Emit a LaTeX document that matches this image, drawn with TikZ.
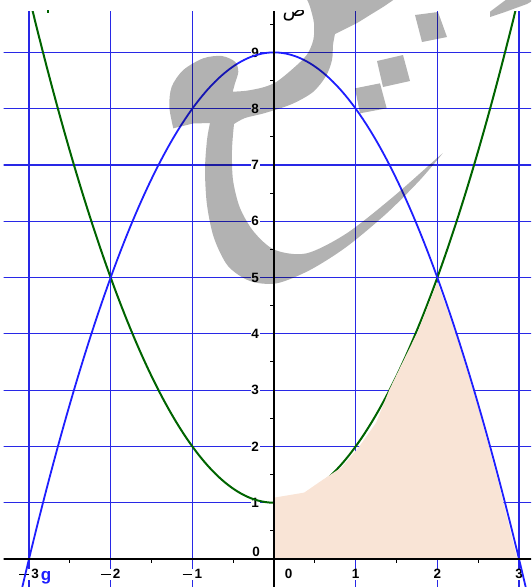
\documentclass[tikz,border=0pt]{standalone}
\usepackage{fontspec}
\setmainfont{Liberation Sans}
\newfontfamily\arabicfont[Script=Arabic]{DejaVu Sans}
\TeXXeTstate=1
\definecolor{gridblue}{RGB}{40,40,230}
\definecolor{curveblue}{RGB}{30,30,255}
\definecolor{curvegreen}{RGB}{0,100,0}
\definecolor{peach}{RGB}{249,228,214}
\newcommand\mneg{\rule[0.28em]{0.72em}{0.1em}\hspace{0.18em}}
\begin{document}
\begin{tikzpicture}[x=1pt,y=-1pt,
  gridln/.style={draw=gridblue, line width=1.2pt},
  bluecurve/.style={draw=curveblue, line width=1.8pt},
  greencurve/.style={draw=curvegreen, line width=2pt},
  axisln/.style={draw=black, line width=1.6pt},
  tickln/.style={draw=black, line width=1pt},
  ticklbl/.style={fill=white, inner sep=0.8pt, font=\bfseries\fontsize{13.5}{13.5}\selectfont},
  wmark/.style={fill=black, opacity=0.3}]
\useasboundingbox (0,0) rectangle (531,587);
\clip (0,0) rectangle (531,587);
\begin{scope}[shift={(274,559)}, x={(81.67pt,0pt)}, y={(0pt,56.29pt)}]
  \begin{scope}
    \clip (-3.31,-0.5) rectangle (3.15,9.735);
    % grid
    \foreach \gx in {-3,-2,-1,1,2,3} \draw[gridln] (\gx,-0.6) -- (\gx,9.8);
    \foreach \gy in {1,...,9} \draw[gridln] (-3.4,\gy) -- (3.2,\gy);
    % tick labels
    \node[ticklbl] (xa) at (-3,-0.27) {\mneg 3};
    \node[ticklbl] (xb) at (-2,-0.27) {\mneg 2};
    \node[ticklbl] (xc) at (-1,-0.27) {\mneg 1};
    \node[ticklbl] (xd) at (0.18,-0.27) {0};
    \node[ticklbl] (xe) at (1,-0.27) {1};
    \node[ticklbl] (xf) at (2,-0.27) {2};
    \node[ticklbl] (xg) at (3,-0.27) {3};
    \node[ticklbl] (ya) at (-0.22,0.13) {0};
    \foreach \gy [count=\k] in {1,...,9}
      \node[ticklbl] (yl\k) at (-0.23,\gy) {\gy};
    % green curve
    \draw[greencurve] plot[domain=-3.1:3.1, samples=121, smooth] (\x,{\x*\x+1});
    % shaded region
    \fill[peach] (0,0) -- (0,1.09) -- (0.37,1.18) -- (0.59,1.40) -- (0.83,1.63)
      -- (1.04,1.99) -- (1.25,2.42) -- (1.41,3.0) -- (1.57,3.48) -- (1.77,4.07)
      -- (1.90,4.55) -- (2.0,4.92) -- (2.25,3.9) -- (2.5,2.7) -- (2.75,1.35)
      -- (2.98,0) -- cycle;
    % blue curve
    \draw[bluecurve] plot[domain=-3.1:3.1, samples=121, smooth] (\x,{9-\x*\x});
    % axes
    \draw[axisln] (-3.4,0) -- (3.2,0);
    \draw[axisln] (0,-0.6) -- (0,9.8);
    \foreach \tx in {-2.5,-1.5,-0.5,0.5,1.5,2.5} \draw[tickln] (\tx,0) -- (\tx,-0.075);
    \foreach \ty in {0.5,1.5,...,9.5} \draw[tickln] (0,\ty) -- (-0.05,\ty);
    % function label
    \node[text=curveblue, inner sep=0pt, font=\bfseries\fontsize{17}{17}\selectfont] (glbl) at (-2.79,-0.33) {g};
  \end{scope}
\end{scope}
% watermark
\fill[wmark] (442.7,153.3)
  -- plot[smooth] coordinates {(442.7,153.3) (420,180) (386.7,213.3) (346.7,246.7) (310,270) (276.7,283.3) (250,281) (228,266) (214,238) (207,205) (205,170) (207,140) (210,123)}
  -- (193,123.5) -- (173.3,128.3)
  -- plot[smooth] coordinates {(173.3,128.3) (169.3,106.7) (171.7,86.7) (183.3,70) (203.3,58.3) (221.7,56) (235,61.7) (238.3,71.7) (235,83.3) (232.7,91.7)}
  -- plot[smooth] coordinates {(232.7,91.7) (246.7,90.7) (263.3,87.3) (276.7,81.7) (293.3,68.3) (306.7,55) (313.3,40) (314,23.3) (310,6.7) (306.7,-1)}
  -- (393.3,-1)
  -- plot[smooth] coordinates {(393.3,0) (383,7) (370,15) (357,23) (343,30) (335,34)}
  -- plot[smooth] coordinates {(335,34) (333,45) (332,60) (326,76) (313,92) (292,104) (265,113) (245,118) (234,124)}
  -- plot[smooth] coordinates {(234,124) (232,150) (233,180) (240,208) (254,232) (275,250) (306.7,253.3) (346.7,233.3) (393.3,196.7) (436.7,158.3)}
  -- cycle;
\fill[wmark] (415,15) -- (438,12) -- (447,37) -- (422,42) -- cycle;
\fill[wmark] (377,61) -- (403,55) -- (410,81) -- (383,87) -- cycle;
\fill[wmark] (355,88.3) -- (380,83.3) -- (386.7,108.3) -- (360,113.3) -- cycle;
\fill[wmark] (490,11.7) -- (507,-1) -- (532,-1) -- (532,1) -- (527,4) -- (505,12) -- (490,17) -- cycle;
% clipped top labels
\begin{scope}
  \clip (0,10) rectangle (531,587);
  \node[fill=white, inner sep=1pt, anchor=base, font=\arabicfont\fontsize{19}{19}\selectfont] (ylabel) at (294,16) {\beginR ص\endR};
  \fill[curvegreen] (46.7,9) rectangle (49.3,12.7);
\end{scope}
\end{tikzpicture}
\end{document}
